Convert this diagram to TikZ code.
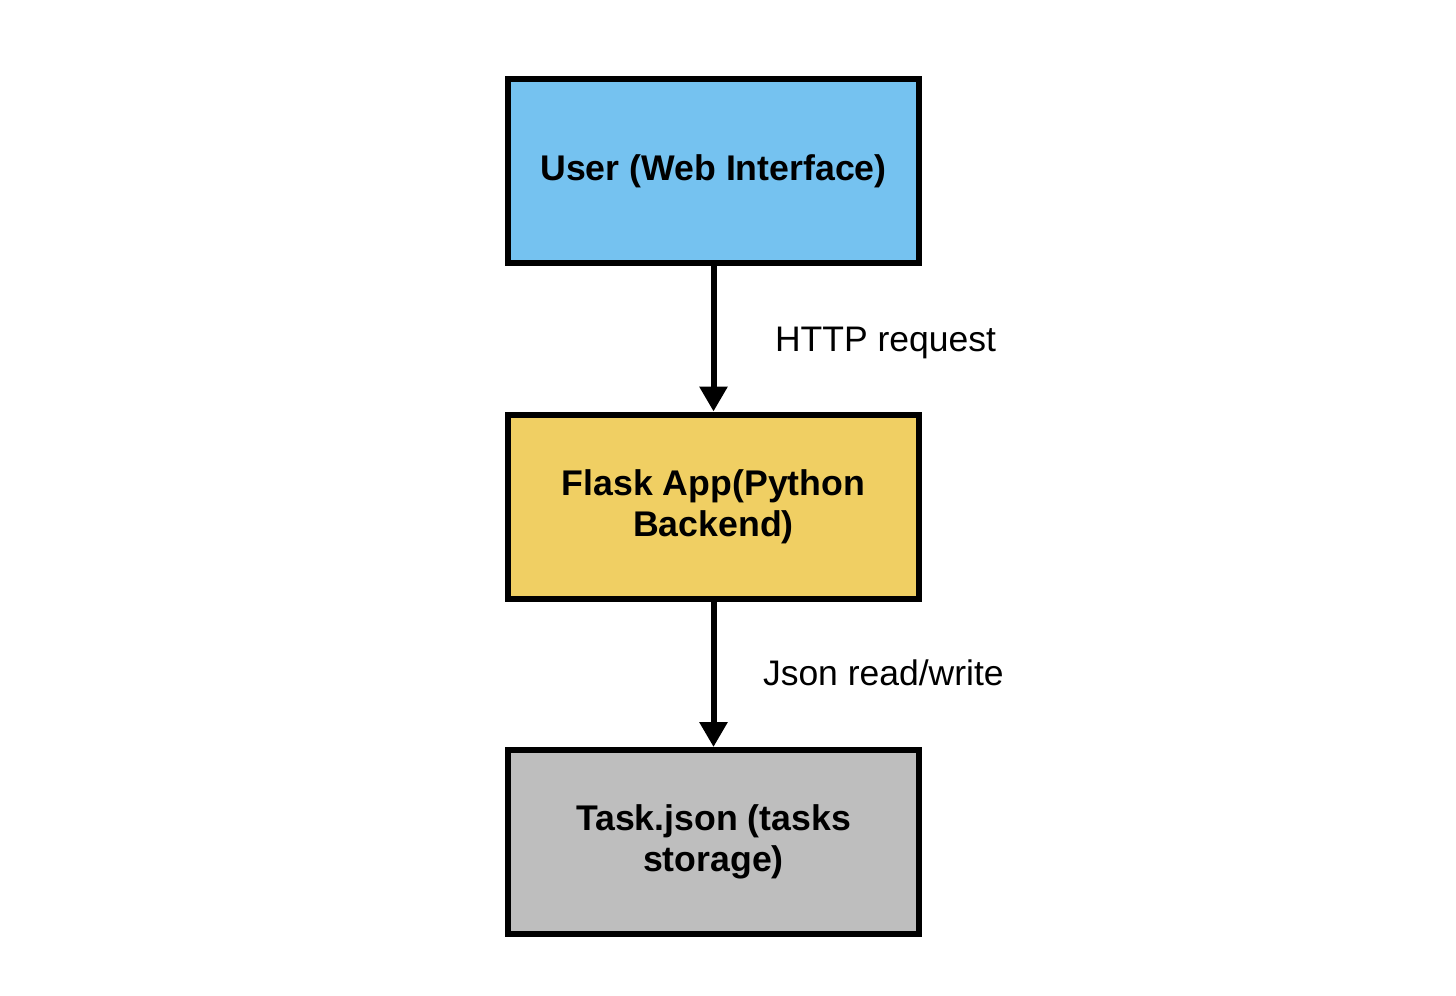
\documentclass[tikz,border=0pt]{standalone}
\usepackage{fontspec}
\setmainfont{Liberation Sans}
\usetikzlibrary{positioning,arrows.meta}
\definecolor{userblue}{HTML}{75C2F0}
\definecolor{appyellow}{HTML}{F0CF63}
\definecolor{storegray}{HTML}{BEBEBE}
\begin{document}
\begin{tikzpicture}
    [box/.style={draw=black,line width=0.12cm,minimum width=8.22cm,minimum height=3.68cm,
        align=center,font=\fontsize{20.3}{23.5}\selectfont\bfseries},
     flow/.style={line width=0.12cm,-{Triangle[length=0.5cm,width=0.54cm]}},
     lbl/.style={inner sep=0pt,font=\fontsize{20.2}{24}\selectfont}]
    %frame
    \useasboundingbox (0,0) rectangle (29.12,-19.92);
    %boxes
    \node[box,fill=userblue] (user) at (14.27,-3.42) {User (Web Interface)};
    \node[box,fill=appyellow,below=2.91cm of user] (flask) {Flask App(Python\\Backend)};
    \node[box,fill=storegray,below=2.91cm of flask] (store) {Task.json (tasks\\storage)};
    %arrows
    \draw[flow] (user) -- (flask) node[midway,right=1.17cm,yshift=-0.08cm,lbl] (http) {HTTP request};
    \draw[flow] (flask) -- (store) node[midway,right=0.93cm,yshift=0.03cm,lbl] (json) {Json read/write};
\end{tikzpicture}
\end{document}
